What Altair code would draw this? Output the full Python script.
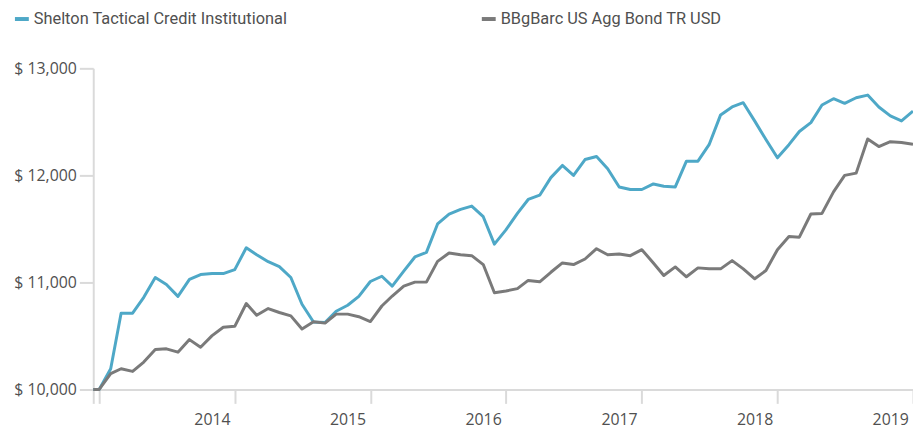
import altair as alt
import pandas as pd

# Dates: inception point, then month starts Jan 2013 .. Jan 2019
dates = ["2012-12-16"] + [f"{2013 + i // 12}-{i % 12 + 1:02d}-01" for i in range(73)]

shelton = [
    10000,
    10000, 10194, 10713, 10713, 10861, 11046, 10981, 10870, 11028, 11074, 11083, 11083,
    11120, 11324, 11259, 11194, 11148, 11046, 10796, 10630, 10625, 10731, 10787, 10870,
    11009, 11058, 10966, 11105, 11238, 11281, 11546, 11639, 11682, 11713, 11614, 11358,
    11491, 11645, 11775, 11815, 11979, 12093, 12000, 12148, 12176, 12062, 11892, 11868,
    11868, 11920, 11898, 11892, 12133, 12133, 12287, 12565, 12639, 12679, 12507, 12336,
    12164, 12287, 12410, 12493, 12657, 12716, 12673, 12725, 12750, 12639, 12556, 12509,
    12600,
]

bbgbarc = [
    10000,
    10000, 10148, 10194, 10169, 10256, 10373, 10380, 10349, 10466, 10395, 10503, 10581,
    10590, 10803, 10694, 10756, 10719, 10688, 10565, 10632, 10620, 10704, 10704, 10680,
    10635, 10780, 10873, 10966, 11003, 11003, 11197, 11275, 11259, 11250, 11167, 10904,
    10920, 10942, 11019, 11006, 11095, 11182, 11167, 11219, 11315, 11259, 11265, 11250,
    11306, 11182, 11065, 11145, 11053, 11136, 11127, 11127, 11204, 11127, 11034, 11111,
    11306, 11429, 11423, 11639, 11645, 11846, 12000, 12021, 12340, 12269, 12315, 12308,
    12290,
]

series_names = ["Shelton Tactical Credit Institutional", "BBgBarc US Agg Bond TR USD"]
series_colors = ["#4ea8c7", "#7a7a7a"]
y_ticks = [10000, 11000, 12000, 13000]
x_tick_dates = [(2012, 12, 16)] + [(y, 1, 1) for y in range(2013, 2020)]

df = pd.DataFrame({
    "date": dates + dates,
    "value": shelton + bbgbarc,
    "series": [series_names[0]] * len(dates) + [series_names[1]] * len(dates),
    "order": [1] * len(dates) + [0] * len(dates),
})

axis_gray = "#dadada"
text_gray = "#505050"

x_vals = [alt.DateTime(year=y, month=m, date=d, utc=True) for (y, m, d) in x_tick_dates]

chart = alt.Chart(df).mark_line(strokeWidth=3, strokeJoin="round").encode(
    x=alt.X(
        "date:T",
        scale=alt.Scale(
            type="utc",
            domain=[alt.DateTime(year=2012, month=12, date=16, utc=True),
                    alt.DateTime(year=2019, month=1, date=1, utc=True)],
        ),
        axis=alt.Axis(
            title=None,
            values=x_vals,
            labelExpr="(utcmonth(datum.value) == 0 && utcdate(datum.value) == 1 && utcyear(datum.value) >= 2014) ? ('' + utcyear(datum.value)) : ''",
            labelOffset=-23,
            labelFlush=False,
            labelOverlap=False,
            labelFont="Open Sans",
            labelFontSize=16,
            labelColor=text_gray,
            labelPadding=8,
            tickSize=14,
            tickWidth=2,
            tickColor=axis_gray,
            domainColor=axis_gray,
            domainWidth=2,
            grid=False,
        ),
    ),
    y=alt.Y(
        "value:Q",
        scale=alt.Scale(domain=[10000, 13000], nice=False, zero=False),
        axis=alt.Axis(
            title=None,
            values=y_ticks,
            labelExpr="'$ ' + format(datum.value, ',')",
            labelFont="Open Sans",
            labelFontSize=16,
            labelColor=text_gray,
            labelPadding=3,
            tickSize=14,
            tickWidth=2,
            tickColor=axis_gray,
            domainColor=axis_gray,
            domainWidth=2,
            grid=False,
        ),
    ),
    color=alt.Color(
        "series:N",
        scale=alt.Scale(domain=series_names, range=series_colors),
        legend=alt.Legend(
            title=None,
            orient="none",
            legendX=-81,
            legendY=-59,
            direction="horizontal",
            columns=2,
            columnPadding=188,
            symbolType="stroke",
            symbolSize=196,
            symbolStrokeWidth=4,
            labelFont="Roboto",
            labelFontSize=16.5,
            labelColor=text_gray,
            labelOffset=3,
            labelLimit=500,
            padding=0,
        ),
    ),
    order=alt.Order("order:Q"),
).properties(
    width=827,
    height=324,
    autosize=alt.AutoSizeParams(type="none"),
    padding={"left": 86, "top": 59, "right": 0, "bottom": 40},
).configure_view(stroke=None)

chart.save("out.html", embed_options={"renderer": "svg", "actions": False})
